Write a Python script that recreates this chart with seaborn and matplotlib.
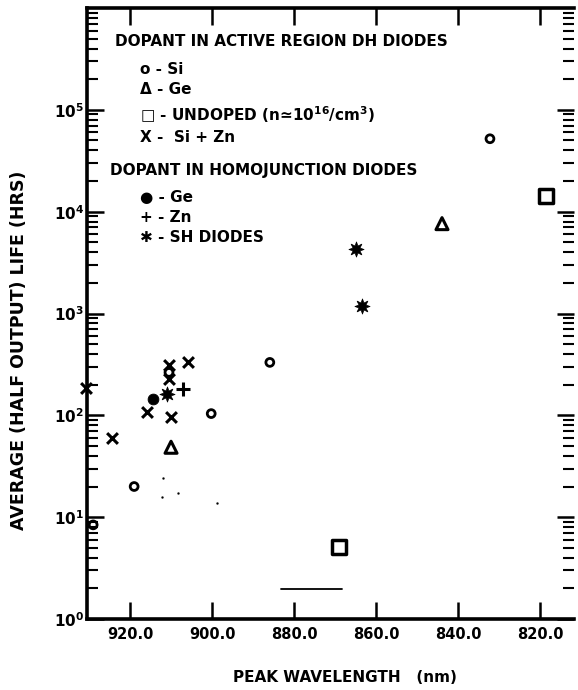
import matplotlib
matplotlib.use('Agg')
import matplotlib.pyplot as plt
import seaborn as sns
import pandas as pd
import numpy as np
from matplotlib.ticker import LogLocator, FixedLocator, NullFormatter

sns.set_style('ticks')
plt.rcParams['font.family'] = ['DejaVu Sans']
plt.rcParams['font.weight'] = 'bold'
plt.rcParams['mathtext.default'] = 'bf'
for key in ['text.color', 'axes.labelcolor', 'xtick.color', 'ytick.color', 'axes.edgecolor']:
    plt.rcParams[key] = 'black'

# wavelength (angstrom) / life (hrs)
si_wl = [8322, 8859, 9002, 9190, 9290, 9105]
si_life = [52000, 331, 104, 20, 8.4, 264]

ge_dh_wl = [8439, 9100]
ge_dh_life = [7630, 48.6]

undoped_wl = [8185, 8690]
undoped_life = [14350, 5.1]

sizn_wl = [9307, 9244, 9159, 9105, 9105, 9100, 9059]
sizn_life = [184, 59.6, 109, 310, 225, 96, 331]

ge_homo_wl = [9144]
ge_homo_life = [144]

zn_wl = [9071]
zn_life = [180]

sh_wl = [8649, 8634, 9110]
sh_life = [4340, 1198, 161]

# faint specks left in the scan
speck_wl = [9120, 9122, 9083, 8988]
speck_life = [24, 15.7, 17.2, 13.7]

# short bar near the bottom
bar_wl = [8832, 8683]
bar_life = [1.97, 1.97]

xticks = [9200, 9000, 8800, 8600, 8400, 8200]
xtick_labels = ['920.0', '900.0', '880.0', '860.0', '840.0', '820.0']
yticks = [1, 10, 100, 1000, 10000, 100000]
ytick_labels = [r'$10^{0}$', r'$10^{1}$', r'$10^{2}$', r'$10^{3}$', r'$10^{4}$', r'$10^{5}$']

W, H = 578, 690
fig = plt.figure(figsize=(W / 100, H / 100), dpi=100)
ax = fig.add_axes([87 / W, 1 - 619 / H, (574 - 87) / W, (619 - 8) / H])

groups = [
    (si_wl, si_life, dict(marker='o', s=32, facecolor='none', edgecolor='black', linewidth=2)),
    (ge_dh_wl, ge_dh_life, dict(marker='^', s=75, facecolor='none', edgecolor='black', linewidth=2.2)),
    (undoped_wl, undoped_life, dict(marker='s', s=100, facecolor='none', edgecolor='black', linewidth=2.5)),
    (sizn_wl, sizn_life, dict(marker='x', s=60, color='black', linewidth=2.2)),
    (ge_homo_wl, ge_homo_life, dict(marker='o', s=60, color='black', edgecolor='black')),
    (zn_wl, zn_life, dict(marker='+', s=90, color='black', linewidth=2.2)),
    (sh_wl, sh_life, dict(marker=(8, 1, 0), s=120, color='black', edgecolor='black', linewidth=0.5)),
    (speck_wl, speck_life, dict(marker='.', s=8, color='black', edgecolor='black')),
]
for wl, life, kw in groups:
    df = pd.DataFrame({'wl': wl, 'life': life})
    sns.scatterplot(data=df, x='wl', y='life', ax=ax, legend=False, clip_on=False, zorder=3, **kw)

sns.lineplot(x=bar_wl, y=bar_life, ax=ax, color='black', linewidth=1.3)

ax.set_yscale('log')
ax.set_xlim(9305, 8117)
ax.set_ylim(1, 1e6)

ax.xaxis.set_major_locator(FixedLocator(xticks))
ax.set_xticklabels(xtick_labels, fontsize=10.5, fontweight='bold')
ax.yaxis.set_major_locator(FixedLocator(yticks))
ax.set_yticklabels(ytick_labels, fontsize=11)
ax.yaxis.set_minor_locator(LogLocator(base=10, subs=np.arange(2, 10), numticks=20))
ax.yaxis.set_minor_formatter(NullFormatter())

ax.tick_params(axis='x', which='major', direction='in', length=12, width=1.8,
               top=True, bottom=True, pad=6)
ax.tick_params(axis='y', which='major', direction='in', length=12, width=1.8,
               left=True, right=True, pad=2)
ax.tick_params(axis='y', which='minor', direction='in', length=8, width=1.5,
               left=True, right=True)
for side in ['left', 'bottom', 'top']:
    ax.spines[side].set_linewidth(2.6)
ax.spines['right'].set_visible(False)
ax.set_xlabel('')
ax.set_ylabel('')

fig.text(345 / W, 1 - 678 / H, 'PEAK WAVELENGTH   (nm)', ha='center', va='center',
         fontsize=11, fontweight='bold')
fig.text(19 / W, 1 - 350 / H, 'AVERAGE (HALF OUTPUT) LIFE (HRS)', ha='center', va='center',
         rotation=90, fontsize=12.5, fontweight='bold')

legend_lines = [
    (115, 42, 'DOPANT IN ACTIVE REGION DH DIODES'),
    (140, 70, 'o - Si'),
    (140, 90, '\u0394 - Ge'),
    (140, 115, '\u25a1 - UNDOPED (n\u224310$^{16}$/cm$^{3}$)'),
    (140, 137, 'X -  Si + Zn'),
    (110, 170, 'DOPANT IN HOMOJUNCTION DIODES'),
    (140, 197, '\u25cf - Ge'),
    (140, 218, '+ - Zn'),
    (140, 238, '\u2731 - SH DIODES'),
]
for px, py, txt in legend_lines:
    fig.text(px / W, 1 - py / H, txt, ha='left', va='center', fontsize=11, fontweight='bold')

fig.savefig('out.png', dpi=100)
